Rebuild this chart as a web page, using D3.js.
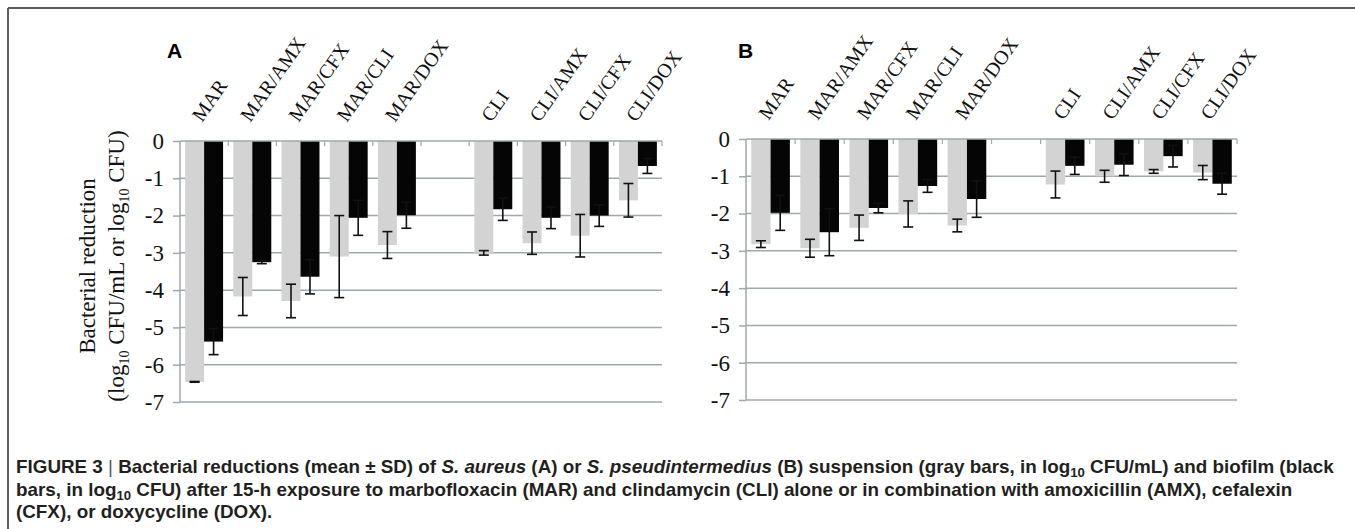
<html>
  <body style="margin:0;background:#fff">
    <style>
      svg text.serif { font-family: "Liberation Serif", "Times New Roman", serif; fill: #111; }
      .caption { font-family: "Liberation Sans", Arial, sans-serif; font-weight: bold; fill: #231f20; }
    </style>

    <script src="https://d3js.org/d3.v7.min.js"></script>

    <div id="chart"></div>

    <script>
      // categories (the empty one is the gap between the MAR and CLI groups)
      const categories = ['MAR', 'MAR/AMX', 'MAR/CFX', 'MAR/CLI', 'MAR/DOX', '', 'CLI', 'CLI/AMX', 'CLI/CFX', 'CLI/DOX'];
      const yTickValues = [0, -1, -2, -3, -4, -5, -6, -7];

      // A: S. aureus
      const aureusSuspension = [-6.46, -4.17, -4.29, -3.10, -2.79, null, -3.00, -2.74, -2.54, -1.59];
      const aureusSuspensionSD = [0.01, 0.51, 0.45, 1.10, 0.36, null, 0.06, 0.30, 0.57, 0.45];
      const aureusBiofilm = [-5.38, -3.25, -3.64, -2.06, -1.99, null, -1.83, -2.06, -2.00, -0.67];
      const aureusBiofilmSD = [0.35, 0.04, 0.46, 0.47, 0.35, null, 0.30, 0.29, 0.29, 0.20];

      // B: S. pseudintermedius
      const pseudSuspension = [-2.82, -2.93, -2.38, -2.01, -2.32, null, -1.22, -1.00, -0.87, -0.90];
      const pseudSuspensionSD = [0.09, 0.24, 0.34, 0.35, 0.17, null, 0.36, 0.16, 0.05, 0.19];
      const pseudBiofilm = [-1.98, -2.50, -1.85, -1.26, -1.61, null, -0.72, -0.69, -0.46, -1.20];
      const pseudBiofilmSD = [0.47, 0.63, 0.13, 0.17, 0.49, null, 0.23, 0.29, 0.29, 0.28];

      const W = 1355, H = 529;
      const gridColor = '#a0a8ab';
      const grayBar = '#d3d3d3';

      const svg = d3.select('#chart').append('svg')
        .attr('width', W).attr('height', H);

      // outer frame (top + left only)
      svg.append('line').attr('x1', 8).attr('x2', W).attr('y1', 8).attr('y2', 8)
        .attr('stroke', '#5c5c5c').attr('stroke-width', 2);
      svg.append('line').attr('x1', 8).attr('x2', 8).attr('y1', 8).attr('y2', H)
        .attr('stroke', '#5c5c5c').attr('stroke-width', 2);

      function drawPanel(cfg) {
        const g = svg.append('g');
        const x = d3.scaleBand().domain(categories).range([cfg.left, cfg.right]).padding(0);
        const inner = d3.scaleBand().domain(['susp', 'bio']).range([0, x.bandwidth()])
          .paddingInner(0).paddingOuter(0.27);
        const y = d3.scaleLinear().domain([0, -7]).range([cfg.top, cfg.bottom]);

        // grid lines
        g.append('g').selectAll('line')
          .data(yTickValues.slice(1))
          .join('line')
          .attr('x1', cfg.left).attr('x2', cfg.right)
          .attr('y1', y).attr('y2', y)
          .attr('stroke', gridColor).attr('stroke-width', 1.5);

        // bars
        const rows = categories.map((c, i) => ({
          c,
          susp: cfg.susp[i], suspSD: cfg.suspSD[i],
          bio: cfg.bio[i], bioSD: cfg.bioSD[i],
        })).filter((d) => d.susp !== null);

        const bars = [];
        rows.forEach((d) => {
          bars.push({ c: d.c, key: 'susp', v: d.susp, sd: d.suspSD, fill: grayBar });
          bars.push({ c: d.c, key: 'bio', v: d.bio, sd: d.bioSD, fill: '#050505' });
        });

        g.append('g').selectAll('rect')
          .data(bars)
          .join('rect')
          .attr('x', (d) => x(d.c) + inner(d.key))
          .attr('width', inner.bandwidth())
          .attr('y', y(0))
          .attr('height', (d) => y(d.v) - y(0))
          .attr('fill', (d) => d.fill);

        // error bars
        const capW = 5;
        const eb = g.append('g').selectAll('g')
          .data(bars)
          .join('g')
          .attr('transform', (d) => `translate(${x(d.c) + inner(d.key) + inner.bandwidth() / 2},0)`);
        eb.append('line')
          .attr('y1', (d) => y(d.v + d.sd)).attr('y2', (d) => y(d.v - d.sd))
          .attr('stroke', '#111').attr('stroke-width', 1.6);
        eb.append('line')
          .attr('x1', -capW).attr('x2', capW)
          .attr('y1', (d) => y(d.v + d.sd)).attr('y2', (d) => y(d.v + d.sd))
          .attr('stroke', '#111').attr('stroke-width', 1.6);
        eb.append('line')
          .attr('x1', -capW).attr('x2', capW)
          .attr('y1', (d) => y(d.v - d.sd)).attr('y2', (d) => y(d.v - d.sd))
          .attr('stroke', '#111').attr('stroke-width', 1.6);

        // category axis along the zero line, ticks pointing down
        const xAxis = g.append('g');
        xAxis.append('line')
          .attr('x1', cfg.left).attr('x2', cfg.right)
          .attr('y1', y(0)).attr('y2', y(0))
          .attr('stroke', gridColor).attr('stroke-width', 1.5);
        xAxis.selectAll('line.tick')
          .data(categories)
          .join('line')
          .attr('class', 'tick')
          .attr('x1', (d) => x(d) + x.bandwidth()).attr('x2', (d) => x(d) + x.bandwidth())
          .attr('y1', y(0)).attr('y2', y(0) + 5)
          .attr('stroke', gridColor).attr('stroke-width', 1.2);

        xAxis.selectAll('text')
          .data(categories.filter((c) => c !== ''))
          .join('text')
          .attr('class', 'serif')
          .attr('font-size', 20)
          .attr('transform', (d) => `translate(${x(d) + x.bandwidth() / 2 - 2},${cfg.top - 18}) rotate(-55)`)
          .text((d) => d);

        // value axis
        const yAxis = d3.axisLeft(y)
          .tickValues(yTickValues)
          .tickSize(7)
          .tickPadding(9)
          .tickFormat((d) => String(d));
        const ya = g.append('g')
          .attr('transform', `translate(${cfg.left},0)`)
          .call(yAxis);
        ya.select('.domain').attr('stroke', gridColor).attr('stroke-width', 1.5).attr('d', `M0,${y(0)}V${y(-7)}`);
        ya.selectAll('.tick line').attr('stroke', gridColor).attr('stroke-width', 1.5);
        ya.selectAll('.tick text')
          .attr('class', 'serif')
          .attr('font-size', 23)
          .attr('font-family', null)
          .attr('fill', '#111');

        // panel letter
        g.append('text')
          .attr('x', cfg.letterX).attr('y', 58)
          .attr('font-family', '"Liberation Sans", Arial, sans-serif')
          .attr('font-weight', 'bold')
          .attr('font-size', 21)
          .attr('fill', '#000')
          .text(cfg.letter);
      }

      drawPanel({
        left: 180, right: 662, top: 141, bottom: 402,
        susp: aureusSuspension, suspSD: aureusSuspensionSD,
        bio: aureusBiofilm, bioSD: aureusBiofilmSD,
        letter: 'A', letterX: 167,
      });

      drawPanel({
        left: 746, right: 1237, top: 139, bottom: 400,
        susp: pseudSuspension, suspSD: pseudSuspensionSD,
        bio: pseudBiofilm, bioSD: pseudBiofilmSD,
        letter: 'B', letterX: 738,
      });

      // y axis title for panel A
      const yTitle = svg.append('text')
        .attr('class', 'serif')
        .attr('font-size', 23)
        .attr('text-anchor', 'middle')
        .attr('transform', 'translate(95,266) rotate(-90)');
      yTitle.append('tspan').attr('x', 0).attr('y', 0).text('Bacterial reduction');
      const t2 = yTitle.append('tspan').attr('x', 0).attr('y', 29);
      t2.append('tspan').text('(log');
      t2.append('tspan').attr('font-size', 14).attr('dy', 5).text('10');
      t2.append('tspan').attr('dy', -5).text(' CFU/mL or log');
      t2.append('tspan').attr('font-size', 14).attr('dy', 5).text('10');
      t2.append('tspan').attr('dy', -5).text(' CFU)');

      // caption
      const captionLines = [
        [['FIGURE 3 ', 'n'], ['| ', 'bar'], ['Bacterial reductions (mean \u00b1 SD) of ', 'n'], ['S. aureus', 'i'], [' (A) or ', 'n'],
          ['S. pseudintermedius', 'i'], [' (B) suspension (gray bars, in log', 'n'], ['10', 'sub'], [' CFU/mL) and biofilm (black', 'n']],
        [['bars, in log', 'n'], ['10', 'sub'], [' CFU) after 15-h exposure to marbofloxacin (MAR) and clindamycin (CLI) alone or in combination with amoxicillin (AMX), cefalexin', 'n']],
        [['(CFX), or doxycycline (DOX).', 'n']],
      ];
      const capFont = 16;
      const caption = svg.append('g');
      const capLineEls = captionLines.map((parts, li) => {
        const t = caption.append('text')
          .attr('class', 'caption')
          .attr('x', 16)
          .attr('y', 473 + li * 22.5)
          .attr('font-size', capFont);
        let shifted = false;
        parts.forEach(([s, kind]) => {
          const sp = t.append('tspan').text(s);
          if (kind === 'i') sp.attr('font-style', 'italic');
          if (kind === 'bar') sp.attr('font-weight', 'normal').attr('fill', '#555');
          if (kind === 'sub') {
            sp.attr('font-size', capFont * 0.7).attr('dy', 4);
            shifted = true;
          } else if (shifted) {
            sp.attr('dy', -4);
            shifted = false;
          }
        });
        return t;
      });
      // fit first line to the width seen in the figure
      const targetW = 1319;
      const w1 = capLineEls[0].node().getComputedTextLength();
      const k = targetW / w1;
      capLineEls.forEach((t) => {
        t.attr('font-size', capFont * k);
        t.selectAll('tspan').each(function () {
          const fs = d3.select(this).attr('font-size');
          if (fs) d3.select(this).attr('font-size', fs * k);
        });
      });
    </script>
  </body>
</html>
